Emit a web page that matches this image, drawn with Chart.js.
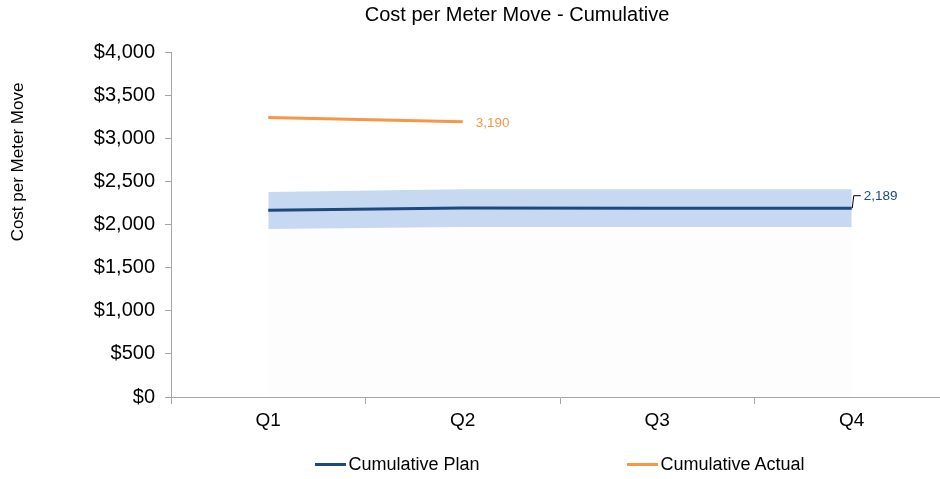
<!DOCTYPE html>
<html><head><meta charset="utf-8">
<script src="https://cdn.jsdelivr.net/npm/chart.js@4/dist/chart.umd.min.js"></script>
<style>
html,body{margin:0;padding:0;background:#fff;overflow:hidden;width:940px;height:479px;}
#wrap{position:relative;width:960px;height:479px;}
#legend{position:absolute;left:171px;width:778px;top:454px;display:flex;justify-content:center;gap:148px;font:18px 'Liberation Sans',Arial,sans-serif;color:#000;line-height:21px;}
.item{display:flex;align-items:center;}
.sw{width:31px;height:3px;margin-right:2px;}
</style></head><body>
<div id="wrap"><canvas id="c" width="960" height="479"></canvas><div id="legend"></div></div>
<script>
const categories = ['Q1', 'Q2', 'Q3', 'Q4'];
const planValues = [2165, 2190, 2189, 2189];
const actualValues = [3240, 3190, null, null];
const bandUpper = [2377, 2410, 2409, 2408];
const bandLower = [1948, 1972, 1971, 1970];
const yTickValues = [0, 500, 1000, 1500, 2000, 2500, 3000, 3500, 4000];
const chartTitle = 'Cost per Meter Move - Cumulative';
const yAxisTitle = 'Cost per Meter Move';

const FONT = "'Liberation Sans', Arial, sans-serif";
const PLAN_COLOR = '#1F497D';
const ACTUAL_COLOR = '#F79646';
const AXIS_COLOR = '#A6A6A6';

const fmt = v => v.toLocaleString('en-US');

const textPlugin = {
  id: 'textPlugin',
  afterDraw(chart) {
    const ctx = chart.ctx;
    ctx.save();
    ctx.fillStyle = '#000';
    ctx.font = '20px ' + FONT;
    ctx.textAlign = 'center';
    ctx.textBaseline = 'middle';
    ctx.fillText(chartTitle, 517, 15);
    ctx.translate(18, 162);
    ctx.rotate(-Math.PI / 2);
    ctx.font = '17px ' + FONT;
    ctx.fillText(yAxisTitle, 0, 0);
    ctx.restore();
  },
  afterDatasetsDraw(chart) {
    const ctx = chart.ctx;
    ctx.save();
    ctx.font = '13.5px ' + FONT;
    ctx.textBaseline = 'middle';
    ctx.textAlign = 'left';
    const pm = chart.getDatasetMeta(0).data;
    const pi = planValues.length - 1;
    const pp = pm[pi];
    ctx.strokeStyle = '#000';
    ctx.lineWidth = 1;
    ctx.beginPath();
    ctx.moveTo(pp.x + 0.5, pp.y);
    ctx.lineTo(pp.x + 2, pp.y - 12.5);
    ctx.lineTo(pp.x + 9, pp.y - 12.5);
    ctx.stroke();
    ctx.fillStyle = PLAN_COLOR;
    ctx.fillText(fmt(planValues[pi]), pp.x + 12, pp.y - 12);
    let ai = -1;
    actualValues.forEach((v, i) => { if (v !== null) ai = i; });
    const ap = chart.getDatasetMeta(1).data[ai];
    ctx.fillStyle = ACTUAL_COLOR;
    ctx.fillText(fmt(actualValues[ai]), ap.x + 13, ap.y + 1);
    ctx.restore();
  }
};

const datasets = [
  { label: 'Cumulative Plan', data: planValues, borderColor: PLAN_COLOR, backgroundColor: PLAN_COLOR, borderWidth: 3, pointRadius: 0, fill: false, tension: 0 },
  { label: 'Cumulative Actual', data: actualValues, borderColor: ACTUAL_COLOR, backgroundColor: ACTUAL_COLOR, borderWidth: 3, pointRadius: 0, fill: false, tension: 0, spanGaps: false },
  { label: 'Upper', data: bandUpper, borderWidth: 0, borderColor: 'rgba(0,0,0,0)', pointRadius: 0, fill: '+1', backgroundColor: '#C6D9F1', tension: 0 },
  { label: 'Lower', data: bandLower, borderWidth: 0, borderColor: 'rgba(0,0,0,0)', pointRadius: 0, fill: 'origin', backgroundColor: 'rgba(225,232,248,0.08)', tension: 0 }
];

const chart = new Chart(document.getElementById('c'), {
  type: 'line',
  data: { labels: categories, datasets },
  plugins: [textPlugin],
  options: {
    responsive: false,
    animation: false,
    events: [],
    layout: { padding: { top: 52, left: 0, right: 11, bottom: 42 } },
    plugins: { legend: { display: false }, title: { display: false }, tooltip: { enabled: false } },
    scales: {
      x: {
        offset: true,
        grid: { offset: true, drawOnChartArea: false, drawTicks: true, tickLength: 7, color: AXIS_COLOR },
        border: { color: AXIS_COLOR, width: 1 },
        ticks: { color: '#000', font: { family: FONT, size: 19 }, padding: 5, maxRotation: 0 },
        afterFit(s) { s.height = 40; }
      },
      y: {
        min: 0, max: 4000,
        afterBuildTicks(s) { s.ticks = yTickValues.map(v => ({ value: v })); },
        grid: { drawOnChartArea: false, drawTicks: true, tickLength: 6, color: AXIS_COLOR },
        border: { color: AXIS_COLOR, width: 1 },
        ticks: { color: '#000', font: { family: FONT, size: 20 }, padding: 10, callback: v => '$' + fmt(v) },
        afterFit(s) { s.width = 171; }
      }
    }
  }
});

const legend = document.getElementById('legend');
[0, 1].forEach(i => {
  const ds = datasets[i];
  const item = document.createElement('div');
  item.className = 'item';
  const sw = document.createElement('span');
  sw.className = 'sw';
  sw.style.background = ds.borderColor;
  const tx = document.createElement('span');
  tx.textContent = ds.label;
  item.appendChild(sw); item.appendChild(tx);
  legend.appendChild(item);
});
</script>
</body></html>
